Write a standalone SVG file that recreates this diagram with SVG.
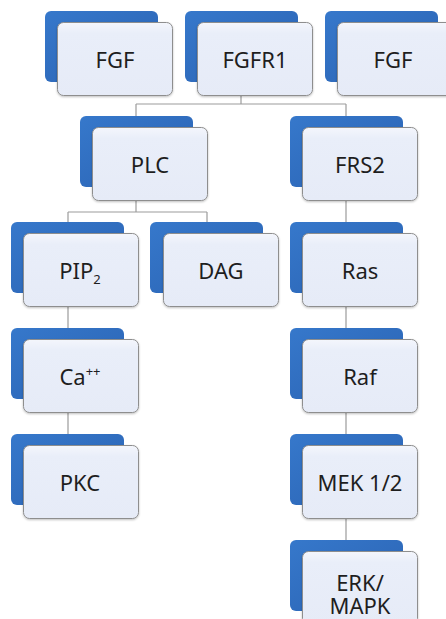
<svg xmlns="http://www.w3.org/2000/svg" width="446" height="619" viewBox="0 0 446 619">
  <defs>
    <linearGradient id="backGrad" x1="0" y1="0" x2="1" y2="1">
      <stop offset="0" stop-color="#3678CB"/>
      <stop offset="1" stop-color="#2A62B2"/>
    </linearGradient>
    <linearGradient id="faceGrad" x1="0" y1="0" x2="0" y2="1">
      <stop offset="0" stop-color="#F4F6FC"/>
      <stop offset="0.15" stop-color="#E9EEF9"/>
      <stop offset="1" stop-color="#E6EBF7"/>
    </linearGradient>
    <filter id="soft" x="-10%" y="-10%" width="125%" height="125%">
      <feDropShadow dx="0" dy="1" stdDeviation="1" flood-color="#000" flood-opacity="0.25"/>
    </filter>
  </defs>
  <style>
    .back { fill: url(#backGrad); }
    .face { fill: url(#faceGrad); stroke: #8E8E8E; stroke-width: 1; filter: url(#soft); }
    .label { font-family: "Noto Sans", "Open Sans", sans-serif; font-size: 22px; fill: #1E1E1E; text-anchor: middle; }
    .small { font-size: 13px; }
    .conn { fill: none; stroke: #9C9C9C; stroke-width: 1.2; }
  </style>

  <rect width="446" height="619" fill="#FFFFFF"/>

  <!-- connectors -->
  <g id="connectors">
    <path class="conn" d="M241,95 V104 M136,104 H346 M136,104 V116 M346,104 V116"/>
    <path class="conn" d="M136,200 V212 M68,212 H207 M68,212 V222 M207,212 V222"/>
    <path class="conn" d="M68,306 V328 M68,412 V434"/>
    <path class="conn" d="M346,200 V222 M346,306 V328 M346,412 V434 M346,518 V540"/>
  </g>

  <!-- top row -->
  <g id="fgf-left">
    <rect class="back" x="45" y="11" width="113" height="71" rx="6"/>
    <rect class="face" x="57.5" y="22.5" width="115" height="73" rx="6"/>
    <text class="label" x="115" y="68">FGF</text>
  </g>
  <g id="fgfr1">
    <rect class="back" x="185" y="11" width="113" height="71" rx="6"/>
    <rect class="face" x="197.5" y="22.5" width="115" height="73" rx="6"/>
    <text class="label" x="255" y="68">FGFR1</text>
  </g>
  <g id="fgf-right">
    <rect class="back" x="325" y="11" width="113" height="71" rx="6"/>
    <rect class="face" x="337.5" y="22.5" width="115" height="73" rx="6"/>
    <text class="label" x="393" y="68">FGF</text>
  </g>

  <!-- second row -->
  <g id="plc">
    <rect class="back" x="80" y="116" width="113" height="71" rx="6"/>
    <rect class="face" x="92.5" y="127.5" width="115" height="73" rx="6"/>
    <text class="label" x="150" y="173">PLC</text>
  </g>
  <g id="frs2">
    <rect class="back" x="290" y="116" width="113" height="71" rx="6"/>
    <rect class="face" x="302.5" y="127.5" width="115" height="73" rx="6"/>
    <text class="label" x="360" y="173">FRS2</text>
  </g>

  <!-- PLC branch -->
  <g id="pip2">
    <rect class="back" x="11" y="222" width="113" height="71" rx="6"/>
    <rect class="face" x="23.5" y="233.5" width="115" height="73" rx="6"/>
    <text class="label" x="80" y="279">PIP<tspan class="small" dy="5">2</tspan></text>
  </g>
  <g id="dag">
    <rect class="back" x="150" y="222" width="113" height="71" rx="6"/>
    <rect class="face" x="163.5" y="233.5" width="115" height="73" rx="6"/>
    <text class="label" x="221" y="279">DAG</text>
  </g>
  <g id="ca">
    <rect class="back" x="11" y="328" width="113" height="71" rx="6"/>
    <rect class="face" x="23.5" y="339.5" width="115" height="73" rx="6"/>
    <text class="label" x="80" y="385">Ca<tspan class="small" dy="-9">++</tspan></text>
  </g>
  <g id="pkc">
    <rect class="back" x="11" y="434" width="113" height="71" rx="6"/>
    <rect class="face" x="23.5" y="445.5" width="115" height="73" rx="6"/>
    <text class="label" x="80" y="491">PKC</text>
  </g>

  <!-- FRS2 branch -->
  <g id="ras">
    <rect class="back" x="290" y="222" width="113" height="71" rx="6"/>
    <rect class="face" x="302.5" y="233.5" width="115" height="73" rx="6"/>
    <text class="label" x="360" y="279">Ras</text>
  </g>
  <g id="raf">
    <rect class="back" x="290" y="328" width="113" height="71" rx="6"/>
    <rect class="face" x="302.5" y="339.5" width="115" height="73" rx="6"/>
    <text class="label" x="360" y="385">Raf</text>
  </g>
  <g id="mek">
    <rect class="back" x="290" y="434" width="113" height="71" rx="6"/>
    <rect class="face" x="302.5" y="445.5" width="115" height="73" rx="6"/>
    <text class="label" x="360" y="491">MEK 1/2</text>
  </g>
  <g id="erk">
    <rect class="back" x="290" y="540" width="113" height="71" rx="6"/>
    <rect class="face" x="302.5" y="551.5" width="115" height="73" rx="6"/>
    <text class="label" x="360" y="591">ERK/<tspan x="360" dy="23">MAPK</tspan></text>
  </g>
</svg>
